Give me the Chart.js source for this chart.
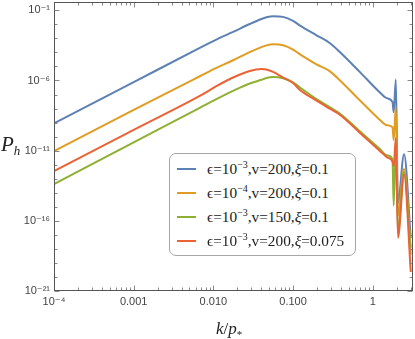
<!DOCTYPE html>
<html><head><meta charset="utf-8">
<script src="https://cdn.jsdelivr.net/npm/chart.js@4"></script>
<style>
html,body{margin:0;padding:0;background:#fff;}
#wrap{position:relative;width:415px;height:339px;overflow:hidden;}
canvas{position:absolute;left:0;top:0;}
.legend{position:absolute;left:169px;top:153px;width:187px;height:103px;box-sizing:border-box;border:1px solid #a6a6a6;border-radius:7px;background:#fff;padding-top:3px;font-family:"Liberation Serif","Times New Roman",serif;font-size:15.3px;color:#222;}
.row{position:relative;height:24px;line-height:24px;white-space:nowrap;}
.swatch{position:absolute;left:7px;top:11px;width:19px;height:2px;}
.txt{position:absolute;left:37px;top:0;}
.txt sup{font-size:10px;vertical-align:0;position:relative;top:-6px;}
.ytitle{position:absolute;left:1px;top:134px;font-family:"Liberation Serif","Times New Roman",serif;font-style:italic;font-size:21px;line-height:21px;color:#222;white-space:nowrap;}
.ytitle .s{font-size:13px;position:relative;top:4px;}
.xtitle{position:absolute;left:216px;top:320px;font-family:"Liberation Serif","Times New Roman",serif;font-size:17px;line-height:17px;color:#222;white-space:nowrap;}
.xtitle .s{font-size:11px;position:relative;top:4px;}
</style>
</head>
<body>
<div id="wrap">
<canvas id="c" width="415" height="339" style="width:415px;height:339px"></canvas>
<div class="ytitle">P<span class="s">h</span></div>
<div class="xtitle"><i>k</i>/<i>p</i><span class="s">*</span></div>
<div class="legend" id="legend"></div>
</div>
<script>
// k / p_* sample points
const kValues = [1e-4, 1e-3, 0.00675, 0.0109, 0.0177, 0.0286, 0.0401, 0.0463, 0.0561, 0.075, 0.1, 0.121, 0.197, 0.288, 0.386, 0.687, 1.22, 1.5, 1.77, 1.83, 1.95, 2.07, 2.47, 3.0];
// P_h for each series
const pBlue   = [8.71e-10, 7.59e-7, 2.09e-4, 8.13e-4, 2.88e-3, 1.05e-2, 2.40e-2, 3.16e-2, 3.80e-2, 3.39e-2, 1.78e-2, 8.51e-3, 1.66e-3, 4.68e-4, 1.07e-4, 4.07e-6, 1.45e-7, 5.50e-8, 2.95e-8, 5.50e-9, 1.17e-6, 1.82e-15, 5.62e-12, 5.89e-18];
const pOrange = [9.12e-12, 7.94e-9, 2.00e-6, 7.94e-6, 2.75e-5, 1.05e-4, 2.40e-4, 3.16e-4, 3.80e-4, 3.24e-4, 1.58e-4, 7.59e-5, 1.41e-5, 4.68e-6, 1.05e-6, 3.89e-8, 1.62e-9, 6.46e-10, 4.68e-10, 5.62e-11, 1.32e-8, 2.51e-16, 5.01e-13, 3.98e-19];
const pGreen  = [4.17e-14, 3.89e-11, 1.12e-8, 4.68e-8, 1.82e-7, 6.03e-7, 1.12e-6, 1.48e-6, 1.74e-6, 1.45e-6, 7.41e-7, 3.31e-7, 4.68e-8, 1.26e-8, 4.47e-9, 2.45e-10, 1.38e-11, 4.79e-12, 2.51e-12, 1.26e-15, 5.01e-11, 1.58e-17, 3.16e-13, 1.26e-18];
const pRed    = [3.47e-13, 3.02e-10, 7.94e-8, 3.89e-7, 1.62e-6, 4.79e-6, 6.61e-6, 6.03e-6, 4.07e-6, 1.58e-6, 6.61e-7, 2.19e-7, 3.63e-8, 9.77e-9, 3.63e-9, 1.91e-10, 1.0e-11, 3.47e-12, 1.66e-12, 7.94e-13, 7.94e-11, 6.31e-18, 2.0e-13, 2.24e-20];

const seriesColors = ['#5E81B5', '#E19C24', '#8FB032', '#EB6235'];
const epsExponents = ['−3', '−4', '−3', '−3'];
const vValues = ['200', '200', '150', '200'];
const xiValues = ['0.1', '0.1', '0.1', '0.075'];

const xTickValues = [1e-4, 1e-3, 1e-2, 1e-1, 1];
const xTickLabels = ['10⁻⁴', '0.001', '0.010', '0.100', '1'];
const yTickValues = [1e-21, 1e-16, 1e-11, 1e-6, 1e-1];
const yTickLabels = ['10⁻²¹', '10⁻¹⁶', '10⁻¹¹', '10⁻⁶', '10⁻¹'];
const xMin = 1e-4, xMax = 3.2, yMin = 1e-21, yMax = 0.39;

const seriesValues = [pBlue, pOrange, pGreen, pRed];

const datasets = seriesValues.map((vals, si) => ({
  data: kValues.map((k, i) => ({x: k, y: vals[i]})),
  showLine: true,
  borderColor: seriesColors[si],
  backgroundColor: seriesColors[si],
  borderWidth: 2,
  pointRadius: 0,
  cubicInterpolationMode: 'monotone',
  order: 4 - si
}));

// legend (HTML, built from the arrays)
const legendEl = document.getElementById('legend');
seriesColors.forEach((c, i) => {
  const row = document.createElement('div');
  row.className = 'row';
  row.innerHTML = '<span class="swatch" style="background:' + c + '"></span>' +
    '<span class="txt">ϵ=10<sup>' + epsExponents[i] + '</sup>,v=' + vValues[i] + ',<i>ξ</i>=' + xiValues[i] + '</span>';
  legendEl.appendChild(row);
});

const tickFont = {family: '"Liberation Sans", Arial, "DejaVu Sans", sans-serif', size: 11};

const framePlugin = {
  id: 'frame',
  afterDraw(chart) {
    const {ctx, chartArea: a, scales: {x, y}} = chart;
    ctx.save();
    ctx.lineWidth = 1;
    ctx.strokeStyle = '#8a8a8a';
    ctx.beginPath();
    const L = Math.round(a.left) + 0.5, R = Math.round(a.right) - 0.5;
    const T = Math.round(a.top) + 0.5, B = Math.round(a.bottom) - 0.5;
    for (let e = -4; e <= 0; e++) {
      for (let m = 1; m <= 9; m++) {
        const v = m * Math.pow(10, e);
        if (v > xMax) break;
        const len = m === 1 ? 5 : 3;
        const px = Math.round(x.getPixelForValue(v)) + 0.5;
        ctx.moveTo(px, B); ctx.lineTo(px, B - len);
        ctx.moveTo(px, T); ctx.lineTo(px, T + len);
      }
    }
    for (let e = -21; e <= -1; e++) {
      const v = Math.pow(10, e);
      const len = yTickValues.some(t => Math.abs(Math.log10(t) - e) < 1e-9) ? 5 : 3;
      const py = Math.round(y.getPixelForValue(v)) + 0.5;
      ctx.moveTo(L, py); ctx.lineTo(L + len, py);
      ctx.moveTo(R, py); ctx.lineTo(R - len, py);
    }
    ctx.stroke();
    ctx.strokeStyle = '#555';
    ctx.strokeRect(L, T, R - L, B - T);
    ctx.restore();
  }
};

new Chart(document.getElementById('c'), {
  type: 'scatter',
  data: {datasets},
  options: {
    responsive: false,
    animation: false,
    devicePixelRatio: 1,
    layout: {padding: {top: 2, right: 2, left: 0, bottom: 0}},
    plugins: {legend: {display: false}, tooltip: {enabled: false}},
    scales: {
      x: {
        type: 'logarithmic', min: xMin, max: xMax,
        grid: {display: false, drawTicks: false},
        border: {display: false},
        afterBuildTicks: s => { s.ticks = xTickValues.map(v => ({value: v})); },
        afterFit: s => { s.height = 48; s.paddingLeft = 0; s.paddingRight = 0; },
        ticks: {
          autoSkip: false, maxRotation: 0, minRotation: 0, padding: 4, color: '#444', font: tickFont,
          callback: v => { const i = xTickValues.indexOf(v); return i >= 0 ? xTickLabels[i] : ''; }
        }
      },
      y: {
        type: 'logarithmic', min: yMin, max: yMax,
        grid: {display: false, drawTicks: false},
        border: {display: false},
        afterBuildTicks: s => { s.ticks = yTickValues.map(v => ({value: v})); },
        afterFit: s => { s.width = 54; s.paddingTop = 0; s.paddingBottom = 0; },
        ticks: {
          autoSkip: false, padding: 4, color: '#444', font: tickFont,
          callback: v => { const i = yTickValues.indexOf(v); return i >= 0 ? yTickLabels[i] : ''; }
        }
      }
    }
  },
  plugins: [framePlugin]
});
</script>
</body></html>
